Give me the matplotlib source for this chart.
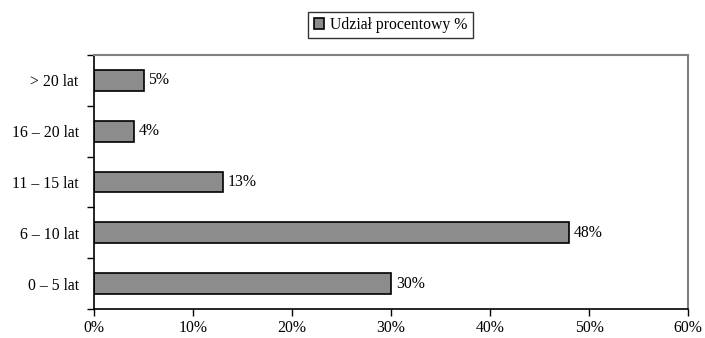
import matplotlib
matplotlib.use("Agg")
import matplotlib.pyplot as plt
import numpy as np
from matplotlib.ticker import FixedLocator, PercentFormatter

plt.rcParams['font.family'] = ['Liberation Serif', 'DejaVu Serif']

categories = ["0 – 5 lat", "6 – 10 lat", "11 – 15 lat", "16 – 20 lat", "> 20 lat"]
values = [30, 48, 13, 4, 5]
x_ticks = [0, 10, 20, 30, 40, 50, 60]
series_name = "Udział procentowy %"

FS = 11.3
W, H = 705, 338
fig = plt.figure(figsize=(W / 100, H / 100), dpi=100)
ax = fig.add_axes([94 / W, 1 - 309 / H, (688 - 94) / W, (309 - 55) / H])

y = np.arange(len(categories))
bars = ax.barh(y, values, height=0.41, color="#8c8c8c", edgecolor="black",
               linewidth=1.2, label=series_name)

for yi, v in zip(y, values):
    ax.annotate(f"{v}%", xy=(v, yi), xytext=(3.5, 0), textcoords="offset points",
                ha="left", va="center", fontsize=FS)

ax.set_xlim(0, 60)
ax.set_ylim(-0.5, len(categories) - 0.5)
ax.set_xticks(x_ticks)
ax.xaxis.set_major_formatter(PercentFormatter(decimals=0))
ax.tick_params(axis="x", direction="out", length=5, width=1, pad=3, labelsize=FS)

ax.set_yticks(y)
ax.set_yticklabels(categories)
ax.tick_params(axis="y", which="major", length=0, pad=11, labelsize=FS)
ax.yaxis.set_minor_locator(FixedLocator(np.arange(len(categories) + 1) - 0.5))
ax.tick_params(axis="y", which="minor", direction="out", length=5, width=1)

for side in ("top", "right"):
    ax.spines[side].set_color("#808080")
    ax.spines[side].set_linewidth(1.5)
for side in ("left", "bottom"):
    ax.spines[side].set_color("black")
    ax.spines[side].set_linewidth(1.2)

leg = fig.legend(handles=[bars], labels=[series_name], loc="center",
                 bbox_to_anchor=(390.5 / W, 1 - 25 / H), fontsize=FS,
                 frameon=True, fancybox=False, shadow=False,
                 handlelength=0.65, handleheight=0.65, handletextpad=0.4,
                 borderpad=0.35, borderaxespad=0)
leg.get_frame().set_edgecolor("black")
leg.get_frame().set_linewidth(1.0)

fig.savefig("out.png", dpi=100)
